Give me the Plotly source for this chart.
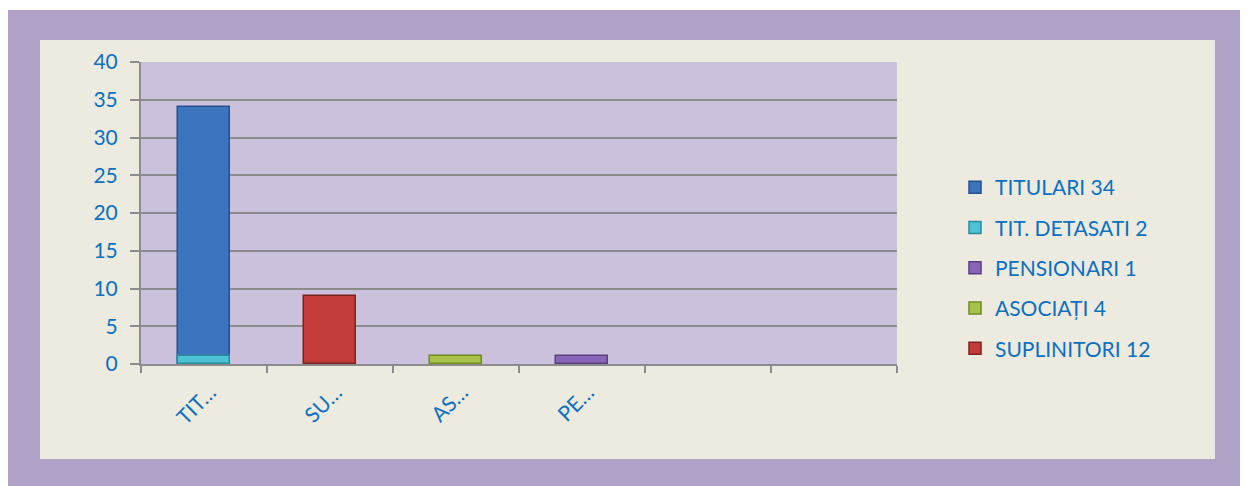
import plotly.graph_objects as go

# ---- data ----
slots = [0, 1, 2, 3, 4, 5]
slot_labels = ["TIT…", "SU…", "AS…", "PE…", "", ""]
series_names = ["TITULARI 34", "TIT. DETASATI 2", "PENSIONARI 1", "ASOCIAȚI 4", "SUPLINITORI 12"]
series_x = [[0], [0], [3], [2], [1]]
series_y = [[34], [1], [1], [1], [9]]
series_colors = ["#3d74bf", "#4cc3d6", "#8a66b8", "#a8c44a", "#c43c3a"]
series_lines = ["#27508a", "#2a8a9a", "#5a3f80", "#6f8a25", "#7e2220"]

OFF = 8  # page body margin
W, H = 1248 - OFF, 486 - OFF
L, R, T, B = 141 - OFF, 897 - OFF, 62 - OFF, 364 - OFF  # plot area in figure px


def px_x(px):
    return (px - OFF - L) / (R - L)


def px_y(py):
    return (B - (py - OFF)) / (B - T)


fig = go.Figure()
for i, name in enumerate(series_names):
    fig.add_trace(go.Bar(
        x=series_x[i], y=series_y[i], name=name, width=0.41,
        marker=dict(color=series_colors[i], line=dict(color=series_lines[i], width=1.5)),
        legendgroup=name,
    ))

font_family = "Lato, 'Open Sans', sans-serif"
blue = "#0a70c0"
FS = 21

fig.update_layout(
    width=W, height=H,
    barmode="overlay",
    paper_bgcolor="white",
    plot_bgcolor="#cbc1dc",
    margin=dict(l=L, r=W - R, t=T, b=H - B, pad=0),
    font=dict(family=font_family, color=blue, size=FS),
    showlegend=True,
    legend=dict(
        x=px_x(955), y=px_y(268), xanchor="left", yanchor="middle",
        bgcolor="rgba(0,0,0,0)", traceorder="grouped", tracegroupgap=10,
        font=dict(size=FS, color=blue, family=font_family),
        itemwidth=30,
    ),
    bargap=0,
    shapes=[
        dict(type="rect", xref="paper", yref="paper", layer="below",
             x0=px_x(6), x1=px_x(1260), y0=px_y(10), y1=px_y(500),
             fillcolor="#b0a1c6", line=dict(width=0)),
        dict(type="rect", xref="paper", yref="paper", layer="below",
             x0=px_x(40), x1=px_x(1215), y0=px_y(40), y1=px_y(459),
             fillcolor="#edeae0", line=dict(width=0)),
        dict(type="rect", xref="paper", yref="paper", layer="below",
             x0=0, x1=1, y0=0, y1=1,
             fillcolor="#cbc1dc", line=dict(width=0)),
    ],
)

fig.update_yaxes(
    range=[0, 40], dtick=5, tick0=0,
    showgrid=True, gridcolor="#8c8c8c", gridwidth=2,
    showline=True, linecolor="#8c8c8c", linewidth=2,
    ticks="outside", ticklen=9, tickcolor="#8c8c8c", tickwidth=2,
    tickfont=dict(size=FS, color=blue, family=font_family),
    ticklabelstandoff=8,
    zeroline=False, fixedrange=True,
)
fig.update_xaxes(
    range=[-0.5, 5.5],
    tickmode="array", tickvals=slots, ticktext=slot_labels,
    ticks="", tickangle=-45,
    showgrid=False, zeroline=False,
    showline=True, linecolor="#8c8c8c", linewidth=2,
    tickfont=dict(size=FS, color=blue, family=font_family),
    ticklabelstandoff=6, ticklabelshift=6,
    minor=dict(tickmode="array", tickvals=[-0.5, 0.5, 1.5, 2.5, 3.5, 4.5, 5.5],
               ticks="outside", ticklen=7, tickcolor="#8c8c8c", tickwidth=2, showgrid=False),
    fixedrange=True,
)

fig.write_html("out.html")
